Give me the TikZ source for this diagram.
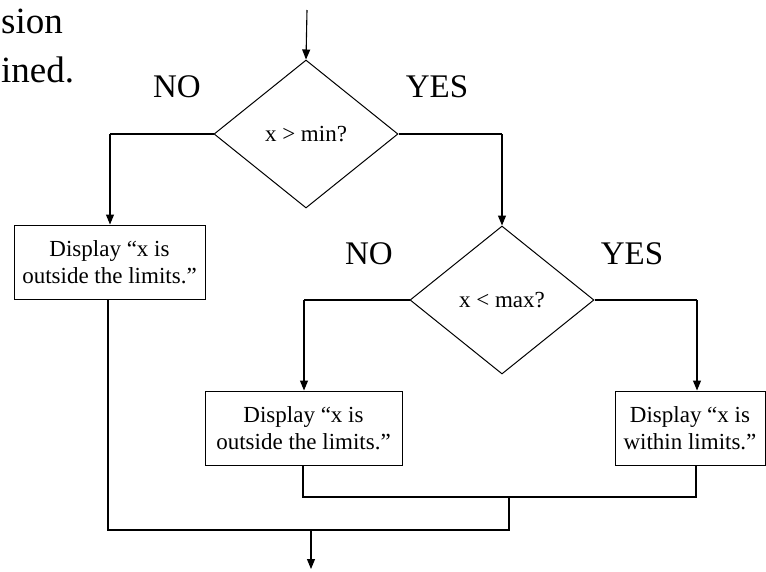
\documentclass[tikz,border=0pt]{standalone}
\usepackage{fontspec}
\setmainfont{Liberation Serif}
\usetikzlibrary{shapes.geometric,arrows.meta}
\begin{document}
\begin{tikzpicture}[x=1pt,y=-1pt,line join=miter,
  procbox/.style={draw,line width=1pt,minimum width=#1,minimum height=74pt,inner sep=0pt,align=center,font=\fontsize{23}{27}\selectfont},
  decision/.style={draw,diamond,line width=1pt,minimum width=184pt,minimum height=148pt,inner sep=0pt,font=\fontsize{23}{27}\selectfont},
  lbl/.style={font=\fontsize{33}{38}\selectfont,inner sep=0pt},
  bigtext/.style={font=\fontsize{37}{45}\selectfont,inner sep=0pt,anchor=base west},
  flow/.style={line width=2pt},
  arr/.style={line width=1.1pt,-{Triangle[width=8pt,length=10pt]}},
]
\useasboundingbox (0,0) rectangle (766,571);
% slide text
\node[bigtext] (t1) at (1,33) {sion};
\node[bigtext] (t2) at (1,82) {ined.};
% nodes
\node[decision] (d1) at (306,134) {x > min?};
\node[decision] (d2) at (502,300) {x < max?};
\node[procbox=191pt] (b1) at (109.5,262) {Display “x is\\outside the limits.”};
\node[procbox=197pt] (b2) at (303.5,428) {Display “x is\\outside the limits.”};
\node[procbox=150pt] (b3) at (690,428) {Display “x is\\within limits.”};
% labels
\node[lbl] (no1) at (177,87) {NO};
\node[lbl] (yes1) at (437,87) {YES};
\node[lbl] (no2) at (369,254) {NO};
\node[lbl] (yes2) at (632,254) {YES};
% coordinates
\coordinate (start) at (307,10);
\coordinate (e1) at (110,134);
\coordinate (e2) at (502,134);
\coordinate (e3) at (304,300);
\coordinate (e4) at (697,300);
\coordinate (m1) at (303,497);
\coordinate (m2) at (696,497);
\coordinate (j1) at (509,497);
\coordinate (j2) at (509,530);
\coordinate (l1) at (108,530);
\coordinate (out) at (311,530);
\coordinate (end) at (311,569);
% connectors
\draw[arr] (start) -- (d1.north);
\draw[flow] (d1.west) -- (e1);
\draw[arr] (e1) -- (e1 |- b1.north);
\draw[flow] (d1.east) -- (e2);
\draw[arr] (e2) -- (d2.north);
\draw[flow] (d2.west) -- (e3);
\draw[arr] (e3) -- (e3 |- b2.north);
\draw[flow] (d2.east) -- (e4);
\draw[arr] (e4) -- (e4 |- b3.north);
\draw[flow] (m1 |- b2.south) -- (m1) -- (m2) -- (m2 |- b3.south);
\draw[flow] (j1) -- (j2) -- (l1) -- (l1 |- b1.south);
\draw[arr] (out) -- (end);
\end{tikzpicture}
\end{document}
